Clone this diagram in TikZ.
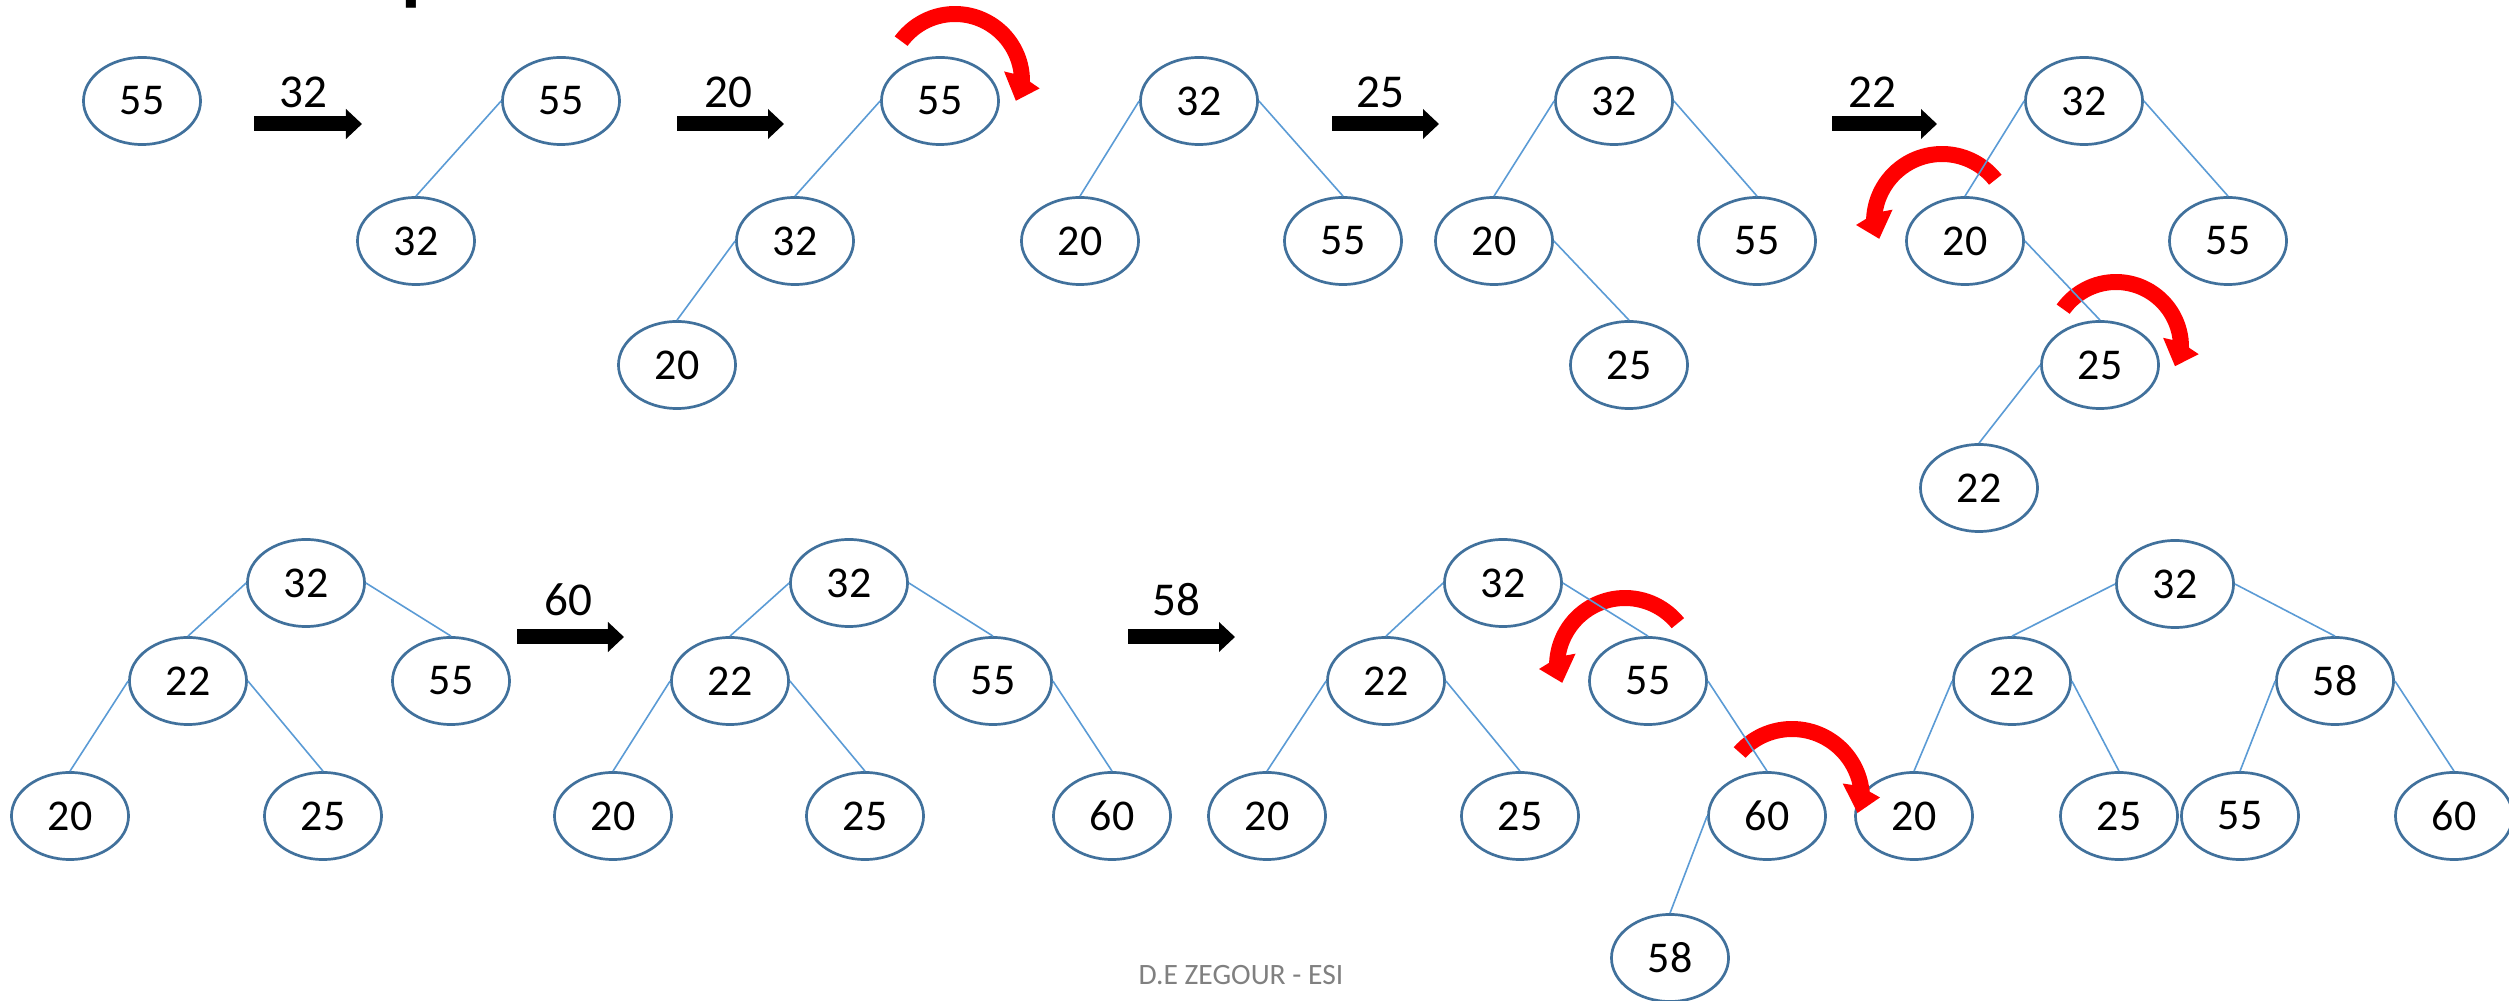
\documentclass[tikz,border=0pt]{standalone}
\usepackage{fontspec}
\setmainfont{Carlito}
\usetikzlibrary{shapes.geometric,arrows.meta}
\definecolor{nodeline}{HTML}{41719C}
\definecolor{edgeblue}{HTML}{5B9BD5}
\definecolor{footgray}{HTML}{808080}
\tikzset{
  tnode/.style={ellipse, draw=nodeline, line width=0.027cm, fill=white,
    minimum width=1.17cm, minimum height=0.87cm, inner sep=0pt,
    font=\fontsize{12.5}{14}\selectfont},
  tedge/.style={draw=edgeblue, line width=0.016cm},
  blockarrow/.style={line width=0.15cm, -{Triangle[length=0.16cm,width=0.29cm]}},
  steplabel/.style={font=\fontsize{13.4}{15}\selectfont, inner sep=0pt},
  rotarrow/.style={fill=red},
}
% #1 cx, #2 cy, #3 radius, #4 start angle, #5 end angle, #6 direction (+1/-1)
\newcommand\redarr[6]{%
  \pgfmathsetmacro\rAo{#3+8}%
  \pgfmathsetmacro\rAi{#3-8}%
  \pgfmathsetmacro\aAo{#5+2.6*(#6)}%
  \pgfmathsetmacro\aAi{#5-5.1*(#6)}%
  \pgfmathsetmacro\aWo{#5+7*(#6)}%
  \pgfmathsetmacro\aWi{#5-9*(#6)}%
  \pgfmathsetmacro\aTp{#5+20*(#6)}%
  \pgfmathsetmacro\rWo{#3+18}%
  \pgfmathsetmacro\rWi{#3-17}%
  \pgfmathsetmacro\rTp{#3-3}%
  \fill[rotarrow] plot[domain=#4:\aAo,samples=40] ({#1+\rAo*cos(\x)},{#2+\rAo*sin(\x)})
    -- ({#1+\rWo*cos(\aWo)},{#2+\rWo*sin(\aWo)})
    -- ({#1+\rTp*cos(\aTp)},{#2+\rTp*sin(\aTp)})
    -- ({#1+\rWi*cos(\aWi)},{#2+\rWi*sin(\aWi)})
    -- plot[domain=\aAi:#4,samples=40] ({#1+\rAi*cos(\x)},{#2+\rAi*sin(\x)})
    -- cycle;
}
\begin{document}
\begin{tikzpicture}[x=0.01cm,y=-0.01cm]
\useasboundingbox (0,0) rectangle (2509,1001);

% title (cut off at the top, as in the reference)
\node[anchor=base west, inner sep=0pt, font=\fontsize{23}{26}\bfseries\selectfont] (title) at (105,-4) {Un exemple};

% ---------------- Row 1 ----------------
\node[tnode] (a55) at (142,101) {55};

\draw[blockarrow] (254,124) coordinate (p1s) -- (362,124) coordinate (p1e);
\node[steplabel] (l1) at (303,92) {32};

\node[tnode] (b55) at (561,101) {55};
\node[tnode] (b32) at (416,241) {32};

\draw[blockarrow] (677,124) coordinate (p2s) -- (784,124) coordinate (p2e);
\node[steplabel] (l2) at (728,92) {20};

\node[tnode] (c55) at (940,101) {55};
\node[tnode] (c32) at (795,241) {32};
\node[tnode] (c20) at (677,365) {20};

\node[tnode] (d32) at (1199,101) {32};
\node[tnode] (d20) at (1080,241) {20};
\node[tnode] (d55) at (1343,241) {55};

\draw[blockarrow] (1332,124) coordinate (p3s) -- (1439,124) coordinate (p3e);
\node[steplabel] (l3) at (1380,92) {25};

\node[tnode] (e32) at (1614,101) {32};
\node[tnode] (e20) at (1494,241) {20};
\node[tnode] (e55) at (1757,241) {55};
\node[tnode] (e25) at (1629,365) {25};

\draw[blockarrow] (1832,124) coordinate (p4s) -- (1937,124) coordinate (p4e);
\node[steplabel] (l4) at (1872,92) {22};

\node[tnode] (f32) at (2084,101) {32};
\node[tnode] (f20) at (1965,241) {20};
\node[tnode] (f55) at (2228,241) {55};
\node[tnode] (f25) at (2100,365) {25};
\node[tnode] (f22) at (1979,488) {22};

% ---------------- Row 2 ----------------
\node[tnode] (g32) at (306,583) {32};
\node[tnode] (g22) at (188,681) {22};
\node[tnode] (g55) at (451,681) {55};
\node[tnode] (g20) at (70,816) {20};
\node[tnode] (g25) at (323,816) {25};

\draw[blockarrow] (517,637) coordinate (p5s) -- (624,637) coordinate (p5e);
\node[steplabel] (l5) at (568,600) {60};

\node[tnode] (h32) at (849,583) {32};
\node[tnode] (h22) at (730,681) {22};
\node[tnode] (h55) at (993,681) {55};
\node[tnode] (h20) at (613,816) {20};
\node[tnode] (h25) at (865,816) {25};
\node[tnode] (h60) at (1112,816) {60};

\draw[blockarrow] (1128,637) coordinate (p6s) -- (1235,637) coordinate (p6e);
\node[steplabel] (l6) at (1176,600) {58};

\node[tnode] (i32) at (1503,583) {32};
\node[tnode] (i22) at (1386,681) {22};
\node[tnode] (i55) at (1648,681) {55};
\node[tnode] (i20) at (1267,816) {20};
\node[tnode] (i25) at (1520,816) {25};
\node[tnode] (i60) at (1767,816) {60};
\node[tnode] (i58) at (1670,958) {58};

\node[tnode] (j32) at (2175,584) {32};
\node[tnode] (j22) at (2012,681) {22};
\node[tnode] (j58) at (2335,681) {58};
\node[tnode] (j20) at (1914,816) {20};
\node[tnode] (j25) at (2119,816) {25};
\node[tnode] (j55) at (2240,816) {55};
\node[tnode] (j60) at (2454,816) {60};

% ---------------- rotation arrows ----------------
\redarr{955}{81}{67}{216.5}{358}{1}
\redarr{1942}{222}{68}{321.6}{185}{-1}
\redarr{2116}{347}{65}{215.6}{358}{1}
\redarr{1625}{666}{68}{321}{185}{-1}
\redarr{1792}{799}{70}{221.6}{352}{1}

% ---------------- edges ----------------
\draw[tedge] (b55.west) -- (b32.north);

\draw[tedge] (c55.west) -- (c32.north);
\draw[tedge] (c32.west) -- (c20.north);

\draw[tedge] (d32.west) -- (d20.north);
\draw[tedge] (d32.east) -- (d55.north);

\draw[tedge] (e32.west) -- (e20.north);
\draw[tedge] (e32.east) -- (e55.north);
\draw[tedge] (e20.east) -- (e25.north);

\draw[tedge] (f32.west) -- (f20.north);
\draw[tedge] (f32.east) -- (f55.north);
\draw[tedge] (f20.east) -- (f25.north);
\draw[tedge] (f25.west) -- (f22.north);

\draw[tedge] (g32.west) -- (g22.north);
\draw[tedge] (g32.east) -- (g55.north);
\draw[tedge] (g22.west) -- (g20.north);
\draw[tedge] (g22.east) -- (g25.north);

\draw[tedge] (h32.west) -- (h22.north);
\draw[tedge] (h32.east) -- (h55.north);
\draw[tedge] (h22.west) -- (h20.north);
\draw[tedge] (h22.east) -- (h25.north);
\draw[tedge] (h55.east) -- (h60.north);

\draw[tedge] (i32.west) -- (i22.north);
\draw[tedge] (i32.east) -- (i55.north);
\draw[tedge] (i22.west) -- (i20.north);
\draw[tedge] (i22.east) -- (i25.north);
\draw[tedge] (i55.east) -- (i60.north);
\draw[tedge] (i60.west) -- (i58.north);

\draw[tedge] (j32.west) -- (j22.north);
\draw[tedge] (j32.east) -- (j58.north);
\draw[tedge] (j22.west) -- (j20.north);
\draw[tedge] (j22.east) -- (j25.north);
\draw[tedge] (j58.west) -- (j55.north);
\draw[tedge] (j58.east) -- (j60.north);

% footer
\node[font=\fontsize{8.4}{10}\selectfont, text=footgray, inner sep=0pt] (footer) at (1241,975) {D.E ZEGOUR - ESI};
\end{tikzpicture}
\end{document}
